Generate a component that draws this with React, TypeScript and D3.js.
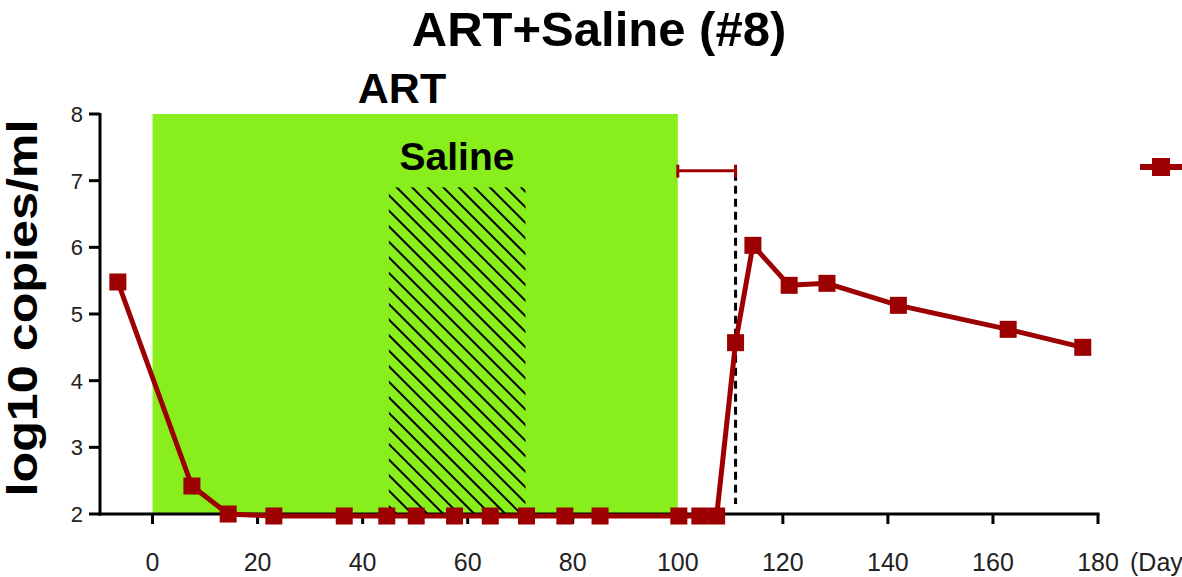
import React from "react";
import * as d3 from "d3";

// Viral load time course (log10 copies/ml) by study day
const days = [-6.6, 7.5, 14.4, 23.1, 36.5, 44.6, 50.2, 57.5, 64.3, 71.2, 78.5, 85.2, 100.2, 104.2, 107.4, 111, 114.3, 121.2, 128.4, 142, 162.9, 177.1];
const loads = [5.48, 2.42, 2.0, 1.97, 1.97, 1.97, 1.97, 1.97, 1.97, 1.97, 1.97, 1.97, 1.97, 1.97, 1.97, 4.57, 6.03, 5.43, 5.46, 5.13, 4.77, 4.5];

const xTicks = [0, 20, 40, 60, 80, 100, 120, 140, 160, 180];
const yTicks = [2, 3, 4, 5, 6, 7, 8];

// Treatment windows (days) and extents
const artWindow = [0, 100];
const salineWindow = [45, 71];
const salineTop = 6.9;
// Rebound interval bar
const reboundBar = { from: 100, to: 111, level: 7.15 };

const W = 1182;
const H = 577;
const RED = "#9c0000";
const GREEN = "#88ee1c";
const FONT = "'Liberation Sans', Arial, sans-serif";

export default function App() {
  const x = d3.scaleLinear().domain([-10, 180]).range([100, 1098]);
  const y = d3.scaleLinear().domain([2, 8]).range([514, 114]);

  const pts = days.map((d, i) => [d, loads[i]] as [number, number]);
  const line = d3
    .line<[number, number]>()
    .x((p) => x(p[0]))
    .y((p) => y(p[1]));

  const ms = 17;

  return (
    <svg
      width={W}
      height={H}
      viewBox={`0 0 ${W} ${H}`}
      style={{ position: "absolute", left: 0, top: 0, background: "#fff" }}
      fontFamily={FONT}
    >
      <defs>
        <pattern id="hatch" width={11} height={11} patternUnits="userSpaceOnUse" patternTransform="rotate(-45)">
          <line x1={5} y1={0} x2={5} y2={11} stroke="#000" strokeWidth={2} />
        </pattern>
      </defs>

      {/* Title */}
      <text x={599} y={46} textAnchor="middle" fontSize={49} fontWeight="bold" fill="#000">
        ART+Saline (#8)
      </text>

      {/* ART window */}
      <rect
        x={x(artWindow[0])}
        y={y(8)}
        width={x(artWindow[1]) - x(artWindow[0])}
        height={y(2) - y(8)}
        fill={GREEN}
      />
      <text x={402} y={103} textAnchor="middle" fontSize={43} fontWeight="bold" fill="#000">
        ART
      </text>

      {/* Saline window */}
      <rect
        x={x(salineWindow[0])}
        y={y(salineTop)}
        width={x(salineWindow[1]) - x(salineWindow[0])}
        height={y(2) - y(salineTop)}
        fill="url(#hatch)"
      />
      <text x={457} y={170} textAnchor="middle" fontSize={39} fontWeight="bold" fill="#000">
        Saline
      </text>

      {/* Y axis */}
      <line x1={x(-10)} y1={y(8) - 1} x2={x(-10)} y2={y(2) + 1.5} stroke="#000" strokeWidth={3} />
      {yTicks.map((t) => (
        <g key={"y" + t}>
          <line x1={x(-10) - 11} x2={x(-10)} y1={y(t)} y2={y(t)} stroke="#000" strokeWidth={3} />
          <text x={83} y={y(t) + 8} textAnchor="end" fontSize={22} fill="#222">
            {t}
          </text>
        </g>
      ))}
      <text
        transform={`translate(37, 308) rotate(-90)`}
        textAnchor="middle"
        fontSize={42}
        fontWeight="bold"
        fill="#000"
        textLength={377}
        lengthAdjust="spacingAndGlyphs"
      >
        log10 copies/ml
      </text>

      {/* X axis */}
      <line x1={x(-10) - 1.5} y1={y(2)} x2={x(180) + 1.5} y2={y(2)} stroke="#000" strokeWidth={3} />
      {xTicks.map((t) => (
        <g key={"x" + t}>
          <line x1={x(t)} x2={x(t)} y1={y(2)} y2={y(2) + 10} stroke="#000" strokeWidth={3} />
          <text x={x(t)} y={571} textAnchor="middle" fontSize={25} fill="#222">
            {t}
          </text>
        </g>
      ))}
      <text x={1130} y={571} fontSize={25} fill="#222">
        (Day
      </text>

      {/* Rebound interval */}
      <line
        x1={x(reboundBar.to)}
        x2={x(reboundBar.to)}
        y1={y(reboundBar.level) + 2}
        y2={y(2.15)}
        stroke="#000"
        strokeWidth={3}
        strokeDasharray="8 5"
      />
      <line
        x1={x(reboundBar.from)}
        x2={x(reboundBar.to)}
        y1={y(reboundBar.level)}
        y2={y(reboundBar.level)}
        stroke={RED}
        strokeWidth={3}
      />
      {[reboundBar.from, reboundBar.to].map((d) => (
        <line
          key={"cap" + d}
          x1={x(d)}
          x2={x(d)}
          y1={y(reboundBar.level) - 6}
          y2={y(reboundBar.level) + 7}
          stroke={RED}
          strokeWidth={3}
        />
      ))}

      {/* Series */}
      <path d={line(pts) ?? ""} fill="none" stroke={RED} strokeWidth={5} strokeLinejoin="round" />
      {pts.map((p, i) => (
        <rect key={"m" + i} x={x(p[0]) - ms / 2} y={y(p[1]) - ms / 2} width={ms} height={ms} fill={RED} />
      ))}

      {/* Legend symbol */}
      <line x1={1140} x2={1182} y1={167} y2={167} stroke={RED} strokeWidth={6} />
      <rect x={1161 - 9} y={167 - 9} width={18} height={18} fill={RED} />
    </svg>
  );
}
